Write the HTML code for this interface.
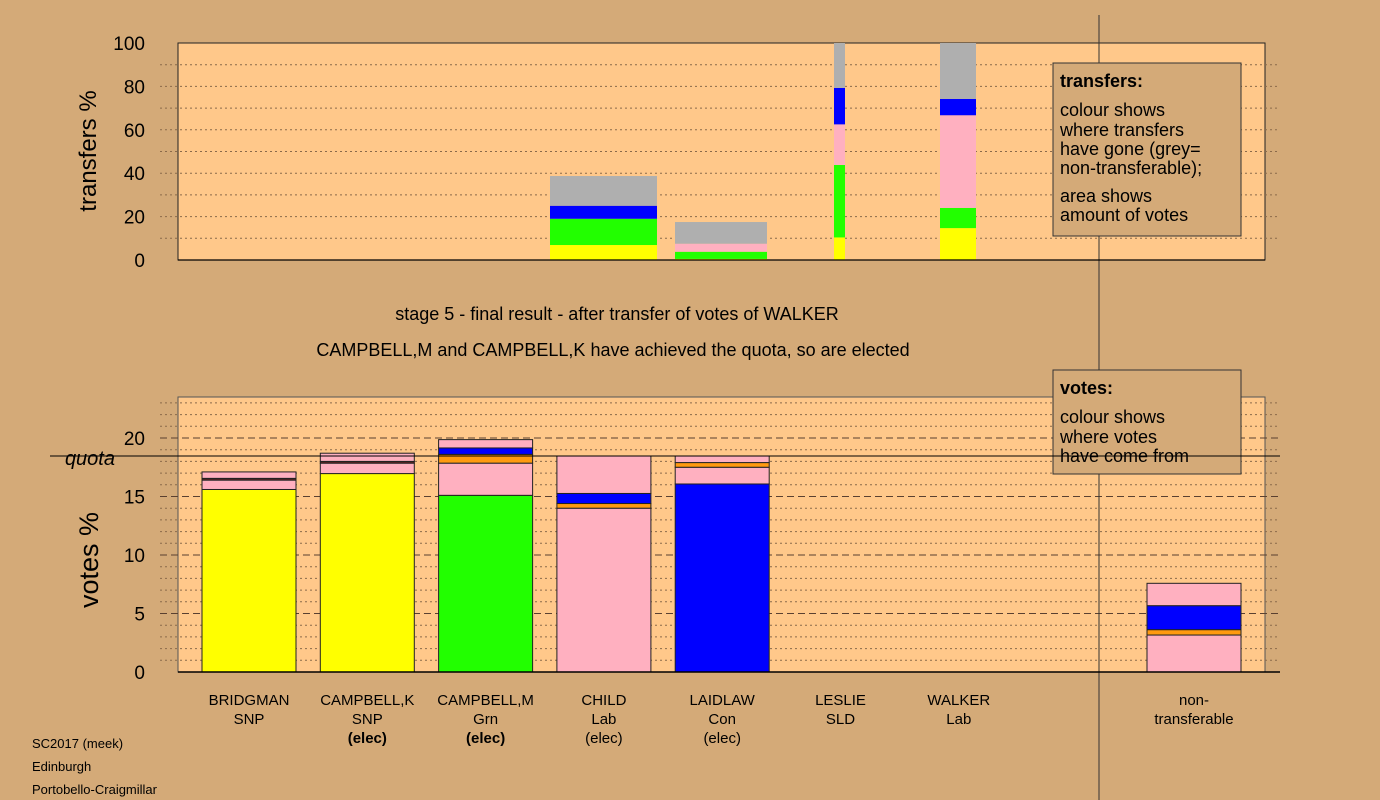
<!DOCTYPE html>
<html><head><meta charset="utf-8"><style>
body{margin:0;background:#D4AA78;}
svg{display:block;font-family:"Liberation Sans",sans-serif;}
</style></head><body>
<svg id="c" width="1380" height="800" viewBox="0 0 1380 800" xmlns="http://www.w3.org/2000/svg">
<rect x="0" y="0" width="1380" height="800" fill="#D4AA78"/>
<rect x="178" y="43" width="1087" height="217" fill="#FFC88A" stroke="#222" stroke-width="1"/>
<rect x="178" y="397" width="1087" height="275" fill="#FFC88A" stroke="#555" stroke-width="1"/>
<g id="tgrid"></g>
<g id="vgrid"></g>
<g id="tbars"></g>
<g id="vbars"></g>
<line x1="1099" y1="15" x2="1099" y2="800" stroke="#333" stroke-width="1"/>
<line x1="178" y1="260" x2="1265" y2="260" stroke="#000" stroke-width="1.2"/>
<line x1="178" y1="672" x2="1280" y2="672" stroke="#000" stroke-width="1.5"/>
<g id="tticks" font-size="19" fill="#000" text-anchor="end"></g>
<g id="vticks" font-size="19" fill="#000" text-anchor="end"></g>
<text transform="translate(96,151) rotate(-90)" font-size="24" text-anchor="middle">transfers %</text>
<text transform="translate(98,560) rotate(-90)" font-size="27" text-anchor="middle">votes %</text>
<text x="617" y="320" font-size="18" text-anchor="middle">stage 5 - final result - after transfer of votes of WALKER</text>
<text x="613" y="356" font-size="18" text-anchor="middle">CAMPBELL,M and CAMPBELL,K have achieved the quota, so are elected</text>
<g>
<rect x="1053" y="63" width="188" height="173" fill="#D4AA78" stroke="#333" stroke-width="1"/>
<text x="1060" y="87" font-size="18" font-weight="bold">transfers:</text>
<text font-size="18"><tspan x="1060" y="116">colour shows</tspan><tspan x="1060" y="136">where transfers</tspan><tspan x="1060" y="155">have gone (grey=</tspan><tspan x="1060" y="174">non-transferable);</tspan><tspan x="1060" y="202">area shows</tspan><tspan x="1060" y="221">amount of votes</tspan></text>
</g>
<g id="vlab" font-size="15" text-anchor="middle"></g>
<g id="vlegend">
<rect x="1053" y="370" width="188" height="104" fill="#D4AA78" stroke="#333" stroke-width="1"/>
<text x="1060" y="394" font-size="18" font-weight="bold">votes:</text>
<text font-size="18"><tspan x="1060" y="423">colour shows</tspan><tspan x="1060" y="443">where votes</tspan><tspan x="1060" y="462">have come from</tspan></text>
</g>
<line x1="50" y1="456" x2="1280" y2="456" stroke="#000" stroke-width="1" id="quotaLine"/>
<text x="115" y="465" font-size="20" font-style="italic" text-anchor="end" id="quotaLabel">quota</text>
<text font-size="13"><tspan x="32" y="748">SC2017 (meek)</tspan><tspan x="32" y="771">Edinburgh</tspan><tspan x="32" y="794">Portobello-Craigmillar</tspan></text>
</svg>
<script>
const NS="http://www.w3.org/2000/svg";
// transfer chart data (cumulative segment values in %)
const tBarX=[550,675,834,940];
const tBarW=[107,92,11,36];
const tColors=[["#FFFF00","#22FF00","#0000FF","#AFAFAF"],["#FFFF00","#22FF00","#FFB0C0","#AFAFAF"],["#FFFF00","#22FF00","#FFB0C0","#0000FF","#AFAFAF"],["#FFFF00","#22FF00","#FFB0C0","#0000FF","#AFAFAF"]];
const tTops=[[6.9,19,25,38.7],[0.5,3.8,7.5,17.5],[10.4,43.8,62.5,79.3,100],[14.7,24,66.7,74.2,100]];
const tTickLabels=["0","20","40","60","80","100"];
// vote chart data
const candidates=[["BRIDGMAN","SNP",""],["CAMPBELL,K","SNP","(elec)"],["CAMPBELL,M","Grn","(elec)"],["CHILD","Lab","(elec)"],["LAIDLAW","Con","(elec)"],["LESLIE","SLD",""],["WALKER","Lab",""],["non-","transferable",""]];
const vColors=[["#FFFF00","#FFB0C0","#662222","#FFB0C0"],["#FFFF00","#FFB0C0","#662222","#FFB0C0"],["#22FF00","#FFB0C0","#FF9A10","#0000FF","#FFB0C0"],["#FFB0C0","#FF9A10","#0000FF","#FFB0C0"],["#0000FF","#FFB0C0","#FF9A10","#FFB0C0"],[],[],["#FFB0C0","#FF9A10","#0000FF","#FFB0C0"]];
const vTops=[[15.6,16.4,16.55,17.1],[16.96,17.85,18.0,18.7],[15.1,17.85,18.6,19.15,19.86],[14.0,14.4,15.26,18.46],[16.07,17.5,17.9,18.46],[],[],[3.16,3.62,5.67,7.58]];
const vTickLabels=["0","5","10","15","20"];
const quota=18.46;

const ty=v=>260-v*2.17;
const vy=v=>672-v*11.7;
const slotX=i=>i<7?202+i*118.3:1147;
function el(tag,attrs,parent){const e=document.createElementNS(NS,tag);for(const k in attrs)e.setAttribute(k,attrs[k]);parent.appendChild(e);return e;}

const tg=document.getElementById('tgrid');
for(let v=10;v<100;v+=10){const l=el('line',{x1:160,x2:1280,y1:ty(v),y2:ty(v),stroke:'#8a6a4a','stroke-width':1,'stroke-dasharray':'2,3'},tg);

}
const vg=document.getElementById('vgrid');
for(let v=1;v<=23;v++){const major=v%5===0;const l=el('line',{x1:160,x2:1280,y1:vy(v),y2:vy(v),stroke:major?'#5a4030':'#8a6a4a','stroke-width':1,'stroke-dasharray':major?'7,4':'2,3'},vg);

}

const tb=document.getElementById('tbars');
tTops.forEach((tops,i)=>{let prev=0;tops.forEach((t,j)=>{const r=el('rect',{x:tBarX[i],width:tBarW[i],y:ty(t),height:ty(prev)-ty(t),fill:tColors[i][j]},tb);

prev=t;});});

const tt=document.getElementById('tticks');
tTickLabels.forEach(s=>{const t=el('text',{x:145,y:ty(+s)+7},tt);t.textContent=s;

});
const vt=document.getElementById('vticks');
vTickLabels.forEach(s=>{const t=el('text',{x:145,y:vy(+s)+7},vt);t.textContent=s;

});

const vb=document.getElementById('vbars');
vTops.forEach((tops,i)=>{let prev=0;tops.forEach((t,j)=>{const r=el('rect',{x:slotX(i),width:94,y:vy(t),height:vy(prev)-vy(t),fill:vColors[i][j],stroke:'#222','stroke-width':1},vb);

prev=t;});});

const vl=document.getElementById('vlab');
candidates.forEach((c,i)=>{const cx=slotX(i)+47;c.forEach((s,k)=>{if(!s)return;const t=el('text',{x:cx,y:705+k*19},vl);t.textContent=s;
if(k===2&&(i===1||i===2))t.setAttribute('font-weight','bold');

});});

document.getElementById('quotaLine').setAttribute('y1',vy(quota));
document.getElementById('quotaLine').setAttribute('y2',vy(quota));
</script>
</body></html>
